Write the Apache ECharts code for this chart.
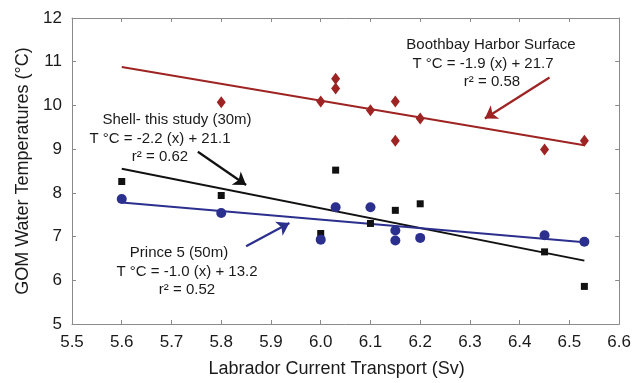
<!DOCTYPE html>
<html><head><meta charset="utf-8">
<script src="https://cdn.jsdelivr.net/npm/echarts@6/dist/echarts.min.js"></script>
<style>html,body{margin:0;padding:0;background:#fff}#c{width:634px;height:383px}</style>
</head><body><div id="c"></div>
<script>
// Boothbay Harbor Surface (red diamonds)
const boothbayX = [5.80, 6.00, 6.03, 6.03, 6.10, 6.15, 6.15, 6.20, 6.45, 6.53];
const boothbayY = [10.07, 10.09, 10.61, 10.39, 9.89, 10.09, 9.19, 9.70, 8.99, 9.19];
// Shell - this study 30m (black squares)
const shellX = [5.60, 5.80, 6.00, 6.03, 6.10, 6.15, 6.20, 6.45, 6.53];
const shellY = [8.26, 7.94, 7.07, 8.52, 7.30, 7.60, 7.75, 6.65, 5.86];
// Prince 5 50m (blue circles)
const princeX = [5.60, 5.80, 6.00, 6.03, 6.10, 6.15, 6.15, 6.20, 6.45, 6.53];
const princeY = [7.86, 7.54, 6.93, 7.67, 7.67, 7.14, 6.91, 6.97, 7.03, 6.88];
// Regression line endpoints as drawn
const boothbayFit = [[5.60, 10.88], [6.53, 9.09]];
const shellFit = [[5.60, 8.55], [6.53, 6.45]];
const princeFit = [[5.60, 7.78], [6.53, 6.87]];
// Annotation arrows (data coordinates, tail -> head)
const boothbayArrow = [[6.46, 10.64], [6.33, 9.70]];
const shellArrow = [[5.753, 8.94], [5.85, 8.18]];
const princeArrow = [[5.85, 6.78], [5.937, 7.31]];
// Annotation texts
const boothbayText = ['Boothbay Harbor Surface', 'T °C = -1.9 (x) + 21.7', 'r² = 0.58'];
const shellText = ['Shell- this study (30m)', 'T °C = -2.2 (x) + 21.1', 'r² = 0.62'];
const princeText = ['Prince 5 (50m)', 'T °C = -1.0 (x) + 13.2', 'r² = 0.52'];
const xTitle = 'Labrador Current Transport (Sv)';
const yTitle = 'GOM Water Temperatures (°C)';

const RED = '#9e2323', BLACK = '#111111', BLUE = '#2b2f8e';
const FONT = "'Liberation Sans', Arial, Helvetica, sans-serif";
const zip = (xs, ys) => xs.map((x, i) => [x, ys[i]]);

const chart = echarts.init(document.getElementById('c'), null, {renderer: 'canvas'});
const axisLine = {show: true, onZero: false, lineStyle: {color: '#8a8a8a', width: 1}};
const axisTick = {show: true, inside: true, length: 4, lineStyle: {color: '#8a8a8a'}};

function arrow(coords, color) {
  return {
    silent: true, symbol: ['none', 'arrow'], symbolSize: 12,
    label: {show: false},
    emphasis: {disabled: true},
    lineStyle: {color: color, width: 2.2, type: 'solid'},
    itemStyle: {color: color},
    data: [[{coord: coords[0]}, {coord: coords[1]}]]
  };
}
function textBlock(lines, cx, y0, dy) {
  return lines.map((t, i) => ({
    type: 'text', x: cx[i], y: y0 + i * dy,
    style: {text: t, fill: '#1a1a1a', font: '15px ' + FONT, textAlign: 'center', textVerticalAlign: 'middle'}
  }));
}

chart.setOption({
  animation: false,
  backgroundColor: '#fff',
  grid: {left: 72, right: 12, top: 18, bottom: 58},
  xAxis: [{
    type: 'value', min: 5.5, max: 6.6, interval: 0.1, position: 'bottom',
    name: xTitle, nameLocation: 'middle', nameGap: 36,
    nameTextStyle: {fontFamily: FONT, fontSize: 18, color: '#1a1a1a', padding: [0, 18, 0, 0]},
    axisLine: axisLine, axisTick: axisTick, splitLine: {show: false},
    axisLabel: {fontFamily: FONT, fontSize: 17, color: '#1a1a1a', margin: 10,
      formatter: v => v.toFixed(1), showMinLabel: true, showMaxLabel: true}
  }, {
    type: 'value', min: 5.5, max: 6.6, interval: 0.1, position: 'top',
    axisLine: axisLine, axisTick: axisTick, splitLine: {show: false}, axisLabel: {show: false}
  }],
  yAxis: [{
    type: 'value', min: 5, max: 12, interval: 1, position: 'left',
    name: yTitle, nameLocation: 'middle', nameGap: 36,
    nameTextStyle: {fontFamily: FONT, fontSize: 18, color: '#1a1a1a'},
    axisLine: axisLine, axisTick: axisTick, splitLine: {show: false},
    axisLabel: {fontFamily: FONT, fontSize: 17, color: '#1a1a1a', margin: 10}
  }, {
    type: 'value', min: 5, max: 12, interval: 1, position: 'right',
    axisLine: axisLine, axisTick: axisTick, splitLine: {show: false}, axisLabel: {show: false}
  }],
  series: [
    {type: 'line', data: boothbayFit, symbol: 'none', lineStyle: {color: RED, width: 2}, z: 2,
      markLine: arrow(boothbayArrow, RED)},
    {type: 'line', data: shellFit, symbol: 'none', lineStyle: {color: BLACK, width: 2}, z: 2,
      markLine: arrow(shellArrow, BLACK)},
    {type: 'line', data: princeFit, symbol: 'none', lineStyle: {color: BLUE, width: 2}, z: 2,
      markLine: arrow(princeArrow, BLUE)},
    {type: 'scatter', data: zip(boothbayX, boothbayY), symbol: 'diamond', symbolSize: [9, 12],
      itemStyle: {color: RED, opacity: 1}, z: 3},
    {type: 'scatter', data: zip(shellX, shellY), symbol: 'rect', symbolSize: 7,
      itemStyle: {color: BLACK, opacity: 1}, z: 3},
    {type: 'scatter', data: zip(princeX, princeY), symbol: 'circle', symbolSize: 10,
      itemStyle: {color: BLUE, opacity: 1}, z: 3}
  ],
  graphic: [
    ...textBlock(boothbayText, [491, 483, 492], 45, 18.5),
    ...textBlock(shellText, [177, 160, 160], 120, 18.5),
    ...textBlock(princeText, [179, 187, 187], 253, 18.5)
  ]
});
</script></body></html>
